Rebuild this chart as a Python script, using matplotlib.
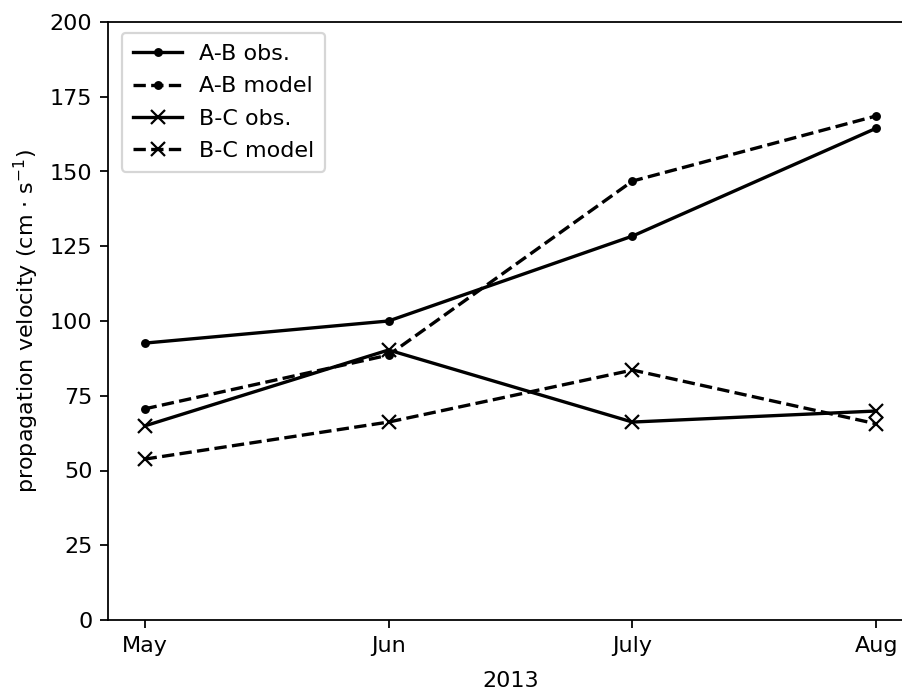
import matplotlib
matplotlib.use("Agg")
import matplotlib.pyplot as plt

months = ["May", "Jun", "July", "Aug"]
ab_obs = [92.6, 100.0, 128.4, 164.5]
ab_model = [70.6, 88.6, 146.8, 168.6]
bc_obs = [64.9, 90.3, 66.2, 69.9]
bc_model = [53.8, 66.2, 83.6, 65.6]

dpi = 160
fig = plt.figure(figsize=(902 / dpi, 691 / dpi), dpi=dpi)
ax = fig.add_axes([108 / 902, 71 / 691, 805 / 902, 598 / 691])

x = list(range(len(months)))
ax.plot(x, ab_obs, "k.-", label="A-B obs.")
ax.plot(x, ab_model, "k.--", label="A-B model")
ax.plot(x, bc_obs, "kx-", label="B-C obs.")
ax.plot(x, bc_model, "kx--", label="B-C model")

ax.set_xticks(x)
ax.set_xticklabels(months)
ax.set_ylim(0, 200)
ax.set_yticks(range(0, 201, 25))
ax.spines["right"].set_visible(False)
ax.set_xlabel("2013", labelpad=7)
ax.set_ylabel(r"propagation velocity (cm $\cdot$ s$^{-1}$)")
ax.legend(loc="upper left", bbox_to_anchor=(14 / 805, 1 - 11 / 598),
          borderaxespad=0, borderpad=0.5, labelspacing=0.55,
          handlelength=2.2, handletextpad=0.75)

fig.savefig("out.png", dpi=dpi)
